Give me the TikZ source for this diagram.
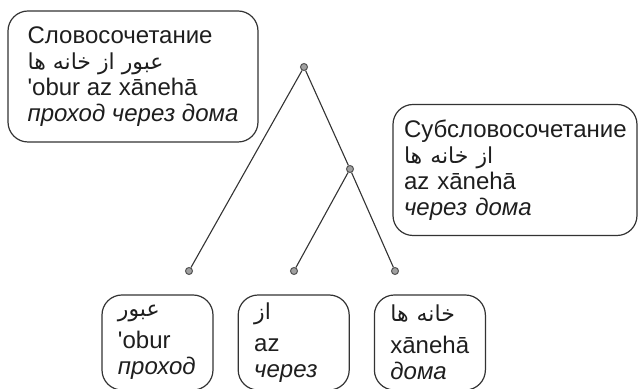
\documentclass[tikz,border=0pt]{standalone}
\usepackage{fontspec}
\setmainfont{Liberation Sans}
\newfontfamily\arabicfont[Script=Arabic]{DejaVu Sans}
\TeXXeTstate=1
\definecolor{InkGray}{HTML}{333333}
\definecolor{TextInk}{HTML}{1E1E1E}
\definecolor{DotFill}{HTML}{A0A0A0}
\definecolor{DotRim}{HTML}{555555}
\usetikzlibrary{positioning}

\newcommand{\farsi}[1]{{\arabicfont\fontsize{11}{13}\selectfont\beginR #1\endR}}

\begin{document}
\begin{tikzpicture}[
  x=0.5pt, y=-0.5pt,
  node distance=12pt,
  box/.style={
    draw=InkGray,
    line width=0.6pt,
    rounded corners=10pt,
    align=left,
    text=TextInk,
    font=\fontsize{12}{13}\selectfont
  },
  phrase/.style={box, minimum height=65.5pt},
  word/.style={box, text width=39.5pt, inner xsep=8pt, minimum height=47.5pt},
  dot/.style={
    circle,
    draw=DotRim,
    fill=DotFill,
    line width=0.5pt,
    inner sep=0pt,
    minimum size=3.5pt
  },
  edge/.style={InkGray, line width=0.55pt}
]
\useasboundingbox (0,0) rectangle (639,389);

% =========================================================
% PHRASE BOXES
% =========================================================

\node[phrase, minimum width=125pt] (phrase) at (133,76.5)
{Словосочетание\\
\farsi{عبور از خانه ها}\\
\textquotesingle obur az xānehā\\
\textit{проход через дома}};

\node[phrase, text width=111pt, inner xsep=5.5pt] (subphrase) at (515,170)
{Субсловосочетание\\
\farsi{از خانه ها}\\
az xānehā\\
\textit{через дома}};

% =========================================================
% WORD BOXES
% =========================================================

\node[word] (obur) at (157.5,342.5)
{\farsi{عبور}\\[3pt]
\textquotesingle obur\\
\textit{проход}};

\node[word, right=of obur] (az)
{\farsi{از}\\[3pt]
az\\
\textit{через}};

\node[word, right=of az] (xaneha)
{\farsi{خانه ها}\\[3pt]
xānehā\\
\textit{дома}};

% =========================================================
% TREE
% =========================================================

\node[dot] (root) at (304,67) {};
\node[dot] (sub) at (350,169) {};
\node[dot] (tipobur) at (189,271) {};
\node[dot] (tipaz) at (294,271) {};
\node[dot] (tipxaneha) at (395,271) {};

\draw[edge] (root)--(tipobur);
\draw[edge] (root)--(sub);
\draw[edge] (sub)--(tipaz);
\draw[edge] (sub)--(tipxaneha);

\end{tikzpicture}
\end{document}
